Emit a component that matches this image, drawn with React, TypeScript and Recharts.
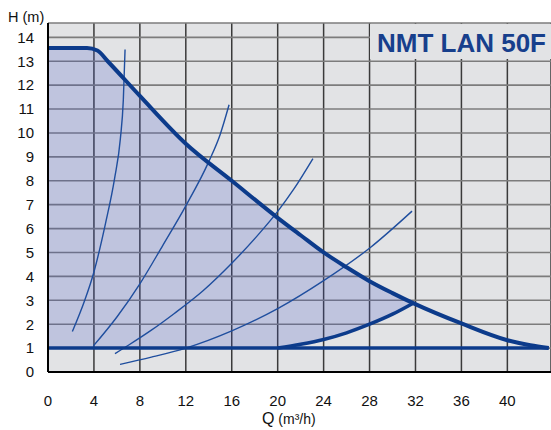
import { ComposedChart, Line, Area, XAxis, YAxis, CartesianGrid } from 'recharts';

// max speed curve
const mainQ = [0, 3.4, 4.3, 5.2, 8, 12, 16, 20, 22, 24, 26, 28, 30, 31.8, 36, 40, 42, 43.6];
const mainH = [13.55, 13.55, 13.45, 13.0, 11.55, 9.55, 8.0, 6.45, 5.72, 5.0, 4.38, 3.8, 3.3, 2.88, 2.03, 1.33, 1.12, 1.0];

// lower edge of the shaded range (matches the first 14 points of main curve)
const fillLo = [1, 1, 1, 1, 1, 1, 1, 1, 1.16, 1.36, 1.64, 2.0, 2.42, 2.88];

// lower thick curve
const lowQ = [20, 22, 24, 26, 28, 30, 31.8];
const lowH = [1, 1.16, 1.36, 1.64, 2.0, 2.42, 2.88];

// minimum head line
const minQ = [0, 43.6];
const minH = [1, 1];

// system curves
const aQ = [2.12, 3.2, 3.95, 5.0, 5.8, 6.3, 6.56, 6.71];
const aH = [1.69, 3.0, 4.1, 6.2, 8.1, 9.75, 11.39, 13.49];
const bQ = [3.95, 6, 8, 10, 12, 14, 15, 15.77];
const bH = [1.09, 2.3, 3.69, 5.3, 6.95, 8.8, 9.95, 11.18];
const cQ = [5.83, 7, 9, 11, 13.5, 16, 18.5, 20, 21.4, 23.07];
const cH = [0.77, 1.12, 1.75, 2.45, 3.4, 4.55, 5.85, 6.72, 7.65, 8.93];
const dQ = [6.27, 9, 12, 16, 20, 24, 28.1, 31.7];
const dH = [0.32, 0.62, 1.0, 1.72, 2.65, 3.82, 5.22, 6.73];

const xTicks = [0, 4, 8, 12, 16, 20, 24, 28, 32, 36, 40];
const yTicks = [0, 1, 2, 3, 4, 5, 6, 7, 8, 9, 10, 11, 12, 13, 14];

const toPts = (qs: number[], hs: number[]) => qs.map((q, i) => ({ q, h: hs[i] }));

const mainData = toPts(mainQ, mainH);
const fillData = fillLo.map((lo, i) => ({ q: mainQ[i], range: [lo, mainH[i]] }));
const lowData = toPts(lowQ, lowH);
const minData = toPts(minQ, minH);
const systemCurves = [toPts(aQ, aH), toPts(bQ, bH), toPts(cQ, cH), toPts(dQ, dH)];

const FONT = '"Liberation Sans", Arial, sans-serif';
const BLUE = '#0c3b8b';

export default function App() {
  return (
    <div style={{ position: 'absolute', left: 0, top: 0, width: 551, height: 430, overflow: 'hidden', background: '#fff', fontFamily: FONT }}>
      <ComposedChart width={551} height={430} margin={{ top: 23, right: 0, left: 0, bottom: 0 }}>
        <CartesianGrid fill="#e2e3e5" horizontal={false} stroke="#3a3a3a" strokeWidth={1.5} />
        <CartesianGrid horizontal vertical={false} stroke="#7c7c7c" strokeWidth={1.6} />
        <XAxis
          type="number"
          dataKey="q"
          domain={[0, 43.8]}
          ticks={xTicks}
          allowDataOverflow
          axisLine={{ stroke: '#000', strokeWidth: 2 }}
          tickLine={false}
          tickSize={0}
          tickMargin={23.5}
          height={58}
          tick={{ fill: '#111', fontSize: 15, fontFamily: FONT }}
        />
        <XAxis xAxisId="top" orientation="top" type="number" domain={[0, 43.8]} height={0} tick={false} tickLine={false} axisLine={{ stroke: '#000', strokeWidth: 2 }} />
        <YAxis
          type="number"
          domain={[0, 14.6]}
          ticks={yTicks}
          allowDataOverflow
          width={48}
          axisLine={{ stroke: '#000', strokeWidth: 2 }}
          tickLine={false}
          tickSize={0}
          tickMargin={14}
          tick={{ fill: '#111', fontSize: 15, fontFamily: FONT }}
        />
        <Area
          data={fillData}
          dataKey="range"
          type="monotone"
          stroke="none"
          fill="#3c50c8"
          fillOpacity={0.21}
          isAnimationActive={false}
        />
        {systemCurves.map((pts, i) => (
          <Line key={i} data={pts} dataKey="h" type="monotone" stroke="#1f4e9e" strokeWidth={1.4} dot={false} isAnimationActive={false} />
        ))}
        <Line data={minData} dataKey="h" type="linear" stroke={BLUE} strokeWidth={3.5} dot={false} isAnimationActive={false} />
        <Line data={lowData} dataKey="h" type="monotone" stroke={BLUE} strokeWidth={3.5} dot={false} isAnimationActive={false} />
        <Line data={mainData} dataKey="h" type="monotone" stroke={BLUE} strokeWidth={4} dot={false} isAnimationActive={false} />
      </ComposedChart>
      <div style={{ position: 'absolute', left: 8, top: 9, fontSize: 14.5, color: '#111' }}>H (m)</div>
      <div style={{ position: 'absolute', left: 262, top: 410, color: '#111', whiteSpace: 'nowrap' }}>
        <span style={{ fontSize: 16 }}>Q</span>
        <span style={{ fontSize: 14 }}> (m³/h)</span>
      </div>
      <div
        style={{
          position: 'absolute',
          left: 370,
          top: 24,
          width: 181,
          height: 35,
          background: '#e2e3e5',
          color: '#173f8c',
          fontWeight: 'bold',
          fontSize: 26,
          lineHeight: '38px',
          paddingLeft: 7,
          boxSizing: 'border-box',
          whiteSpace: 'nowrap',
        }}
      >
        NMT LAN 50F
      </div>
    </div>
  );
}
